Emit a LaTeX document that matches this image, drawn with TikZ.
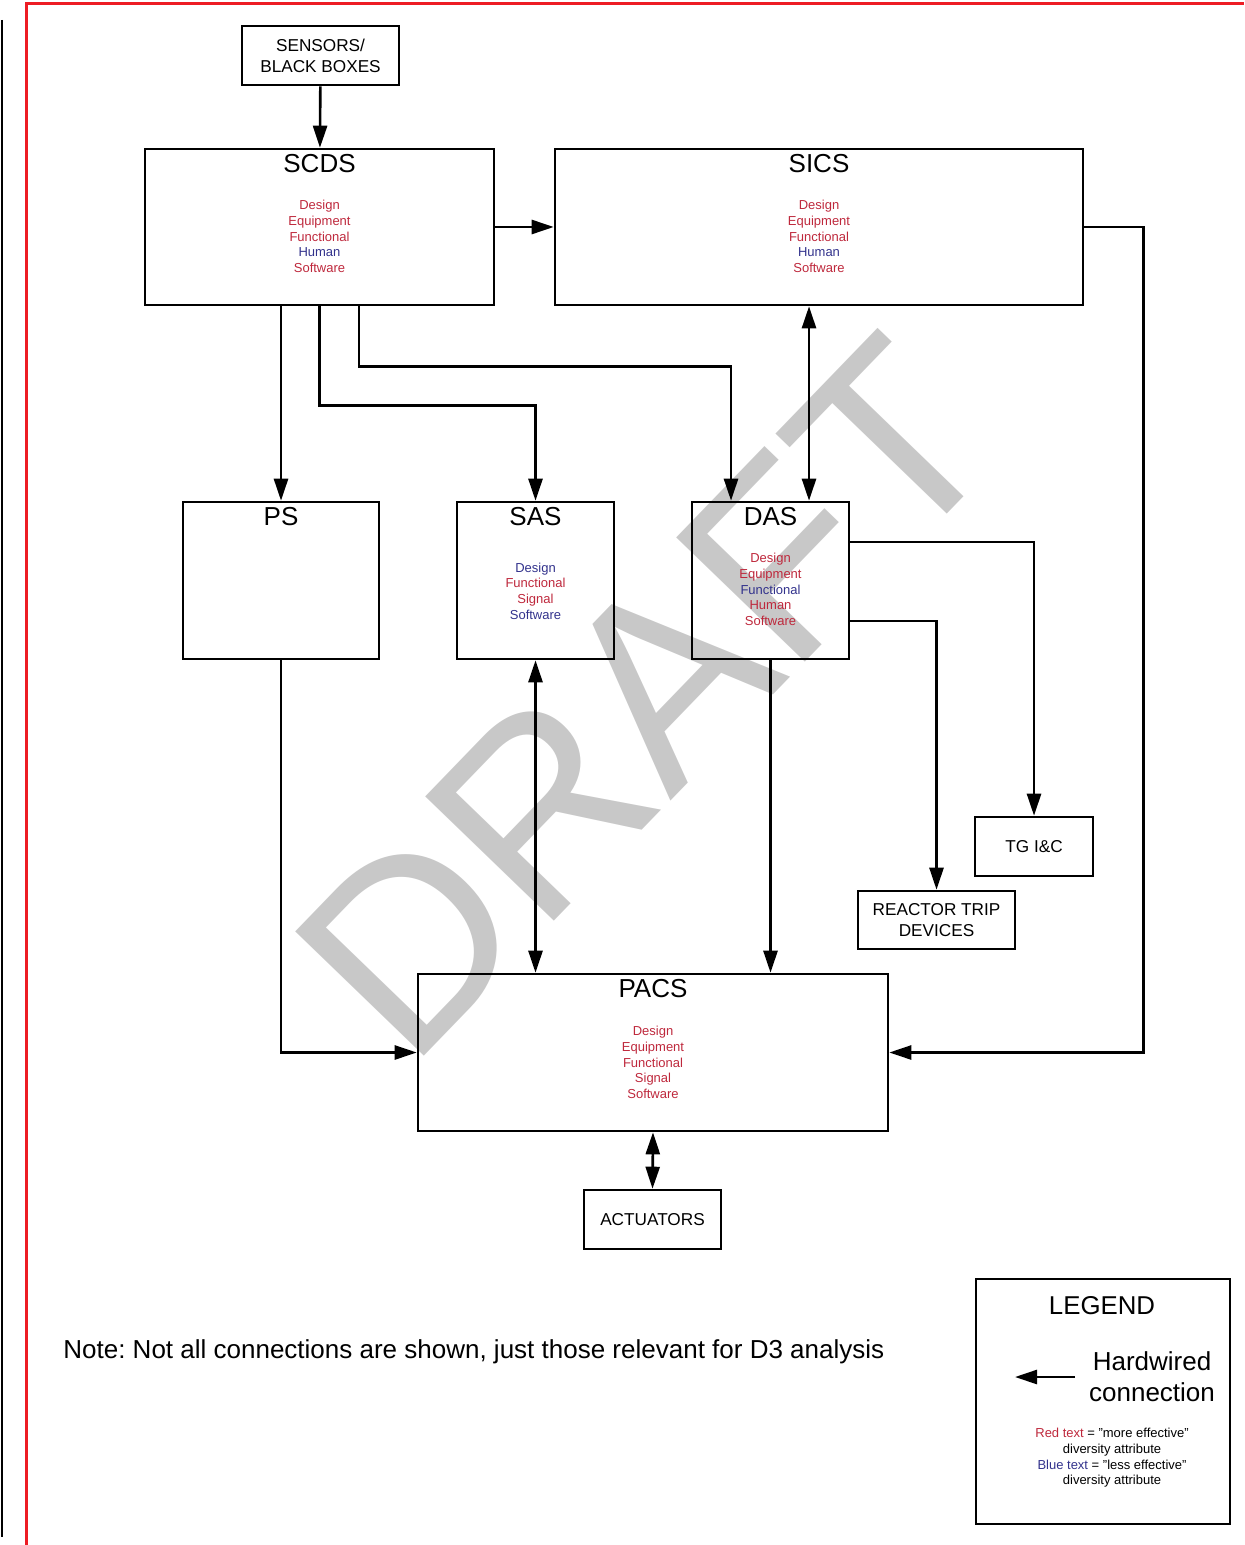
\documentclass[tikz,border=0pt]{standalone}
\usepackage{fontspec}
\setmainfont{Liberation Sans}
\usetikzlibrary{arrows.meta}

\definecolor{attrred}{RGB}{190,40,60}
\definecolor{attrblue}{RGB}{50,50,140}
\definecolor{draftgray}{RGB}{200,200,200}
\definecolor{pagered}{RGB}{237,28,36}

\newcommand{\rtxt}[1]{\textcolor{attrred}{#1}}
\newcommand{\btxt}[1]{\textcolor{attrblue}{#1}}

\tikzset{
  box/.style={draw, line width=1.3pt, inner sep=0pt},
  boxtitle/.style={inner sep=0pt, font=\fontsize{13}{15}\selectfont},
  attr/.style={align=center, inner sep=0pt, font=\fontsize{6.5}{7.85}\selectfont},
  capsbox/.style={box, align=center, font=\fontsize{8.6}{10.5}\selectfont},
  wire/.style={line width=1.3pt, -{Triangle[length=11pt,width=7pt]}},
  twoway/.style={line width=1.3pt, {Triangle[length=11pt,width=7pt]}-{Triangle[length=11pt,width=7pt]}},
}

\begin{document}
\begin{tikzpicture}[x=0.5pt, y=-0.5pt]
\useasboundingbox (0,0) rectangle (1244,1545);

% page rules
\draw[line width=1pt] (2,20) -- (2,1537);
\draw[pagered, line width=1.5pt] (26,1545) -- (26,4) -- (1244,4);

% watermark
\node[rotate=46, text=draftgray, inner sep=0pt, font=\fontsize{130}{130}\selectfont] (draft) at (646,698) {DRAFT};

% boxes
\node[capsbox, minimum width=78.5pt, minimum height=29.5pt] (sens) at (320.5,55.5) {SENSORS/\\BLACK BOXES};
\node[box, minimum width=174.5pt, minimum height=78pt] (scds) at (319.5,227) {};
\node[box, minimum width=264pt, minimum height=78pt] (sics) at (819,227) {};
\node[box, minimum width=98pt, minimum height=78.5pt] (ps) at (281,580.5) {};
\node[box, minimum width=78.5pt, minimum height=78.5pt] (sas) at (535.5,580.5) {};
\node[box, minimum width=78.5pt, minimum height=78.5pt] (das) at (770.5,580.5) {};
\node[capsbox, minimum width=59pt, minimum height=29.5pt] (tg) at (1034,846.5) {TG I\&C};
\node[capsbox, minimum width=78.5pt, minimum height=29pt] (rt) at (936.5,920) {REACTOR TRIP\\DEVICES};
\node[box, minimum width=235pt, minimum height=78.5pt] (pacs) at (653,1052.5) {};
\node[capsbox, minimum width=68.5pt, minimum height=29.5pt] (act) at (652.5,1219.5) {ACTUATORS};
\node[box, minimum width=127pt, minimum height=122.5pt] (lgd) at (1103,1401.5) {};

% titles
\node[boxtitle] (scdsT) at ([yshift=-8pt]scds.north) {SCDS};
\node[boxtitle] (sicsT) at ([yshift=-8pt]sics.north) {SICS};
\node[boxtitle] (psT) at ([yshift=-8pt]ps.north) {PS};
\node[boxtitle] (sasT) at ([yshift=-8pt]sas.north) {SAS};
\node[boxtitle] (dasT) at ([yshift=-8pt]das.north) {DAS};
\node[boxtitle] (pacsT) at ([yshift=-8pt]pacs.north) {PACS};

% diversity attributes
\node[attr] (scdsA) at ([yshift=-4.75pt]scds.center) {\rtxt{Design}\\\rtxt{Equipment}\\\rtxt{Functional}\\\btxt{Human}\\\rtxt{Software}};
\node[attr] (sicsA) at ([yshift=-4.75pt]sics.center) {\rtxt{Design}\\\rtxt{Equipment}\\\rtxt{Functional}\\\btxt{Human}\\\rtxt{Software}};
\node[attr] (sasA) at ([yshift=-5.25pt]sas.center) {\btxt{Design}\\\rtxt{Functional}\\\rtxt{Signal}\\\btxt{Software}};
\node[attr] (dasA) at ([yshift=-4.5pt]das.center) {\rtxt{Design}\\\rtxt{Equipment}\\\btxt{Functional}\\\rtxt{Human}\\\rtxt{Software}};
\node[attr] (pacsA) at ([yshift=-5pt]pacs.center) {\rtxt{Design}\\\rtxt{Equipment}\\\rtxt{Functional}\\\rtxt{Signal}\\\rtxt{Software}};

% connections
\draw[wire] (sens) -- (scds);
\draw[wire] (scds) -- (sics);
\draw[wire] (ps.north |- scds.south) -- (ps.north);
\draw[wire] (scds.south) -- ++(0,99) -| (sas.north);
\draw[wire] ([xshift=19.75pt]scds.south) -- ++(0,60) -| ([xshift=-19.75pt]das.north);
\draw[twoway] ([xshift=19.25pt]das.north) -- ([xshift=19.25pt]das.north |- sics.south);
\draw[wire] ([yshift=19.25pt]das.east) -| (tg.north);
\draw[wire] ([yshift=-20.25pt]das.east) -| (rt.north);
\draw[wire] (das.south) -- (das.south |- pacs.north);
\draw[twoway] (sas.south) -- (sas.south |- pacs.north);
\draw[wire] (ps.south) |- (pacs.west);
\draw[wire] (sics.east) -- ++(59,0) |- (pacs.east);
\draw[twoway] (pacs.south) -- (act.north);

% note
\node[anchor=west, inner sep=0pt, font=\fontsize{13}{15}\selectfont\frenchspacing] (note) at (63,1352) {Note: Not all connections are shown, just those relevant for D3 analysis};

% legend
\node[inner sep=0pt, font=\fontsize{12.9}{15}\selectfont] (lgdT) at (1102,1306) {LEGEND};
\node[align=center, inner sep=0pt, font=\fontsize{13}{15.5}\selectfont] (lgdH) at (1152,1377) {Hardwired\\connection};
\coordinate (hwA) at (1075,1377);
\coordinate (hwB) at (1015,1377);
\draw[wire] (hwA) -- (hwB);
\node[attr] (lgdK) at (1112,1458) {\rtxt{Red text} = "more effective"\\diversity attribute\\\btxt{Blue text} = "less effective"\\diversity attribute};
\end{tikzpicture}
\end{document}
